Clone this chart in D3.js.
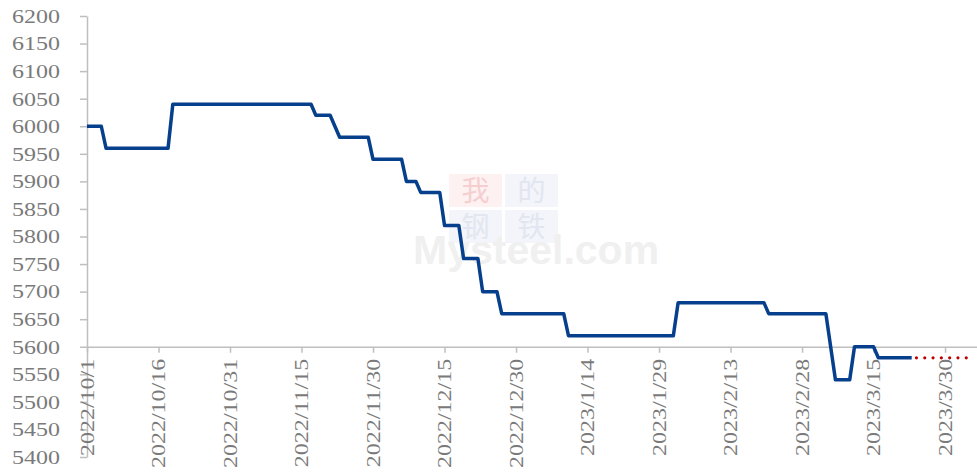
<!DOCTYPE html>
<html>
<head>
<meta charset="utf-8">
<script src="https://cdn.jsdelivr.net/npm/d3@7"></script>
<style>
  body { margin: 0; background: #fff; }
  svg { display: block; }
</style>
</head>
<body>
<svg id="chart"></svg>
<script>
// 价格（元/吨），只记录每次变价前后的日期
const dates = [
  "2022/10/1", "2022/10/4", "2022/10/5", "2022/10/18", "2022/10/19",
  "2022/11/17", "2022/11/18", "2022/11/21", "2022/11/23", "2022/11/29",
  "2022/11/30", "2022/12/6", "2022/12/7", "2022/12/9", "2022/12/10",
  "2022/12/14", "2022/12/15", "2022/12/18", "2022/12/19", "2022/12/22",
  "2022/12/23", "2022/12/26", "2022/12/27", "2023/1/9", "2023/1/10",
  "2023/2/1", "2023/2/2", "2023/2/20", "2023/2/21", "2023/3/5",
  "2023/3/7", "2023/3/10", "2023/3/11", "2023/3/15", "2023/3/16",
  "2023/3/23"
];
const prices = [
  6000, 6000, 5960, 5960, 6040,
  6040, 6020, 6020, 5980, 5980,
  5940, 5940, 5900, 5900, 5880,
  5880, 5820, 5820, 5760, 5760,
  5700, 5700, 5660, 5660, 5620,
  5620, 5680, 5680, 5660, 5660,
  5540, 5540, 5600, 5600, 5580,
  5580
];
// 预测（红色点线）
const forecastDates = ["2023/3/24", "2023/4/5"];
const forecastPrices = [5580, 5580];

const xTickLabels = [
  "2022/10/1", "2022/10/16", "2022/10/31", "2022/11/15", "2022/11/30",
  "2022/12/15", "2022/12/30", "2023/1/14", "2023/1/29", "2023/2/13",
  "2023/2/28", "2023/3/15", "2023/3/30"
];
const yTicks = d3.range(5400, 6201, 50);
const xDomain = ["2022/10/1", "2023/4/6"];

const width = 977, height = 473;
const parse = s => {
  const [yy, mm, dd] = s.split("/").map(Number);
  return new Date(Date.UTC(yy, mm - 1, dd));
};
const fmt = d => `${d.getUTCFullYear()}/${d.getUTCMonth() + 1}/${d.getUTCDate()}`;

const svg = d3.select("#chart")
  .attr("width", width)
  .attr("height", height);

const x = d3.scaleUtc()
  .domain(xDomain.map(parse))
  .range([87, 87 + 187 * 4.767]);

const y = d3.scaleLinear()
  .domain([5400, 6200])
  .range([457, 16]);

const axisColor = "#bfbfbf";
const textColor = "#7a7a7a";
const serif = "'Liberation Serif', 'Times New Roman', serif";

// 水印
const wm = svg.append("g");
const boxes = [
  { t: "我", col: 0, row: 0, bg: "#fdf1f1", fg: "#f5cfcf" },
  { t: "的", col: 1, row: 0, bg: "#f3f5fa", fg: "#e2e6f0" },
  { t: "钢", col: 0, row: 1, bg: "#f3f5fa", fg: "#e2e6f0" },
  { t: "铁", col: 1, row: 1, bg: "#f3f5fa", fg: "#e2e6f0" }
];
boxes.forEach(b => {
  const bx = 449 + b.col * 56, by = 174 + b.row * 36;
  wm.append("rect")
    .attr("x", bx).attr("y", by)
    .attr("width", 53).attr("height", 33)
    .attr("fill", b.bg);
  wm.append("text")
    .attr("x", bx + 26.5).attr("y", by + 27)
    .attr("text-anchor", "middle")
    .attr("font-family", "'Noto Sans CJK SC', sans-serif")
    .attr("font-size", 28)
    .attr("fill", b.fg)
    .text(b.t);
});
wm.append("text")
  .attr("x", 413).attr("y", 264)
  .attr("font-family", "'Liberation Sans', Arial, sans-serif")
  .attr("font-weight", "bold")
  .attr("font-size", 41)
  .attr("fill", "#f0f0f0")
  .text("Mysteel.com");

// Y 轴
const yAxis = svg.append("g")
  .attr("transform", `translate(${x.range()[0]},0)`)
  .call(
    d3.axisLeft(y)
      .tickValues(yTicks)
      .tickFormat(d3.format("d"))
      .tickSize(7)
      .tickSizeOuter(0)
      .tickPadding(20)
  );
yAxis.selectAll("text")
  .attr("dy", "0.34em")
  .attr("transform", "scale(1,0.78)")
  .style("font-family", serif)
  .style("font-size", "24px")
  .style("fill", textColor);

// X 轴（位于 5600 处）
const xAxis = svg.append("g")
  .attr("transform", `translate(0,${y(5600)})`)
  .call(
    d3.axisBottom(x)
      .tickValues(xTickLabels.map(parse))
      .tickFormat(fmt)
      .tickSize(6)
      .tickSizeOuter(0)
  );
xAxis.selectAll("text")
  .attr("x", 0)
  .attr("y", 0)
  .attr("dy", 0)
  .attr("text-anchor", "end")
  .attr("transform", "translate(6.3,12) rotate(-90) scale(1,0.78)")
  .style("font-family", serif)
  .style("font-size", "24px")
  .style("fill", textColor);

svg.selectAll(".domain, .tick line")
  .attr("stroke", axisColor)
  .attr("stroke-width", 1.5);

// 价格线
const series = dates.map((d, i) => ({ date: parse(d), value: prices[i] }));
const forecast = forecastDates.map((d, i) => ({ date: parse(d), value: forecastPrices[i] }));

const line = d3.line()
  .x(d => x(d.date))
  .y(d => y(d.value));

svg.append("path")
  .datum(series)
  .attr("fill", "none")
  .attr("stroke", "#063f8c")
  .attr("stroke-width", 3.5)
  .attr("stroke-linejoin", "round")
  .attr("d", line);

svg.append("path")
  .datum(forecast)
  .attr("fill", "none")
  .attr("stroke", "#c00000")
  .attr("stroke-width", 3.2)
  .attr("stroke-linecap", "round")
  .attr("stroke-dasharray", "0 8.3")
  .attr("d", line);
</script>
</body>
</html>
